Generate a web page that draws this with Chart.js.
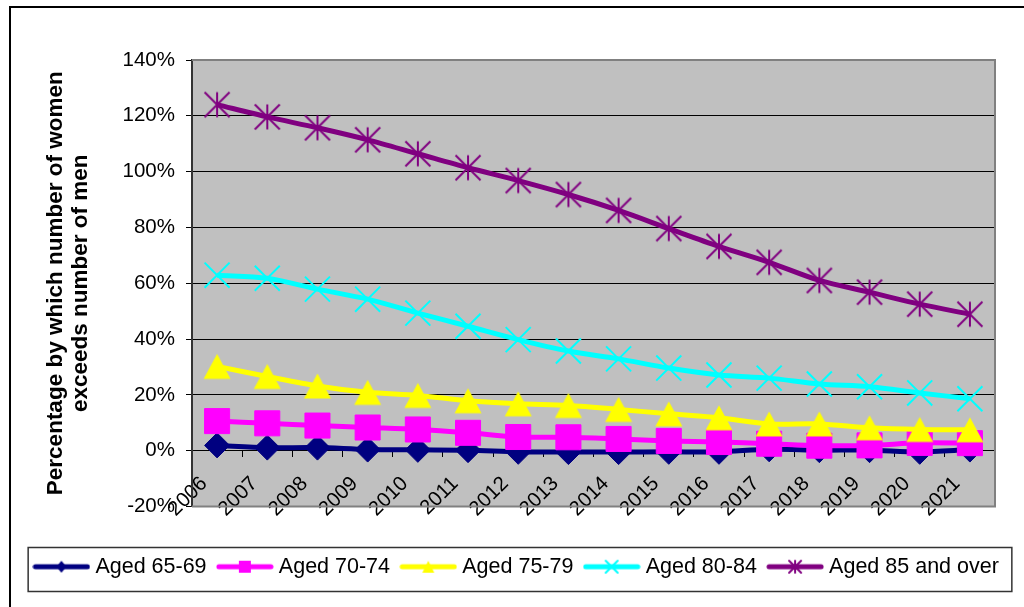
<!DOCTYPE html>
<html>
<head>
<meta charset="utf-8">
<title>Women exceeding men by age group</title>
<script src="https://cdn.jsdelivr.net/npm/chart.js@4.4.1/dist/chart.umd.min.js"></script>
<style>
    html, body { margin: 0; padding: 0; background: #fff; overflow: hidden; }
    #frame {
        position: absolute; left: 9px; top: 6px;
        width: 1100px; height: 700px;
        border: 2px solid #000;
    }
    #wrap { position: absolute; left: 0; top: 0; width: 1024px; height: 607px; }
</style>
</head>
<body>
<div id="frame"></div>
<div id="wrap"><canvas id="excessChart" width="1024" height="607"></canvas></div>
<script>
// Years on the category axis
const years = [
    "2006", "2007", "2008", "2009", "2010", "2011", "2012", "2013",
    "2014", "2015", "2016", "2017", "2018", "2019", "2020", "2021"
];

// % by which women outnumber men, per age band
const aged6569 = [1.9, 1.1, 1.1, 0.4, 0.3, 0.2, -0.4, -0.5, -0.5, -0.4, -0.4, 0.5, 0.2, 0.2, -0.4, 0.4];
const aged7074 = [10.6, 9.8, 9.0, 8.3, 7.6, 6.4, 4.9, 4.8, 4.2, 3.5, 3.1, 2.5, 1.8, 1.9, 2.8, 2.7];
const aged7579 = [30.2, 26.6, 23.2, 20.9, 19.8, 17.9, 16.8, 16.2, 14.8, 13.2, 11.8, 9.6, 9.6, 8.2, 7.6, 7.5];
const aged8084 = [62.9, 61.8, 57.9, 54.3, 49.3, 44.6, 39.8, 35.7, 32.9, 29.6, 27.1, 26.0, 23.9, 22.9, 20.7, 18.6];
const aged85 = [124.0, 119.6, 115.7, 111.4, 106.4, 101.4, 96.8, 91.8, 86.1, 79.6, 73.2, 67.5, 61.0, 56.8, 52.5, 48.9];

const seriesNames = ["Aged 65-69", "Aged 70-74", "Aged 75-79", "Aged 80-84", "Aged 85 and over"];

// Value axis
const yMin = -20;
const yMax = 140;
const yStep = 20;

const FONT = "'Liberation Sans', Arial, sans-serif";

const NAVY = "#000080";
const MAGENTA = "#FF00FF";
const YELLOW = "#FFFF00";
const CYAN = "#00FFFF";
const PURPLE = "#800080";

Chart.defaults.font.family = FONT;
Chart.defaults.color = "#000";

function makeCanvas(w, h) {
    const c = document.createElement("canvas");
    c.width = w;
    c.height = h;
    return c;
}

// Asterisk: vertical bar plus an X, no horizontal bar
function drawStar(ctx, cx, cy, half, color, lw) {
    ctx.strokeStyle = color;
    ctx.lineWidth = lw;
    ctx.beginPath();
    ctx.moveTo(cx, cy - half);
    ctx.lineTo(cx, cy + half);
    ctx.moveTo(cx - half, cy - half);
    ctx.lineTo(cx + half, cy + half);
    ctx.moveTo(cx + half, cy - half);
    ctx.lineTo(cx - half, cy + half);
    ctx.stroke();
}

// Triangle whose bounding box is centred on the point
function drawTriangle(ctx, cx, cy, halfW, halfH, color) {
    ctx.fillStyle = color;
    ctx.beginPath();
    ctx.moveTo(cx, cy - halfH);
    ctx.lineTo(cx + halfW, cy + halfH);
    ctx.lineTo(cx - halfW, cy + halfH);
    ctx.closePath();
    ctx.fill();
}

function drawDiamond(ctx, cx, cy, halfW, halfH, color) {
    ctx.fillStyle = color;
    ctx.beginPath();
    ctx.moveTo(cx, cy - halfH);
    ctx.lineTo(cx + halfW, cy);
    ctx.lineTo(cx, cy + halfH);
    ctx.lineTo(cx - halfW, cy);
    ctx.closePath();
    ctx.fill();
}

function drawCross(ctx, cx, cy, half, color, lw) {
    ctx.strokeStyle = color;
    ctx.lineWidth = lw;
    ctx.beginPath();
    ctx.moveTo(cx - half, cy - half);
    ctx.lineTo(cx + half, cy + half);
    ctx.moveTo(cx + half, cy - half);
    ctx.lineTo(cx - half, cy + half);
    ctx.stroke();
}

const starPoint = makeCanvas(28, 28);
drawStar(starPoint.getContext("2d"), 14, 14, 12.5, PURPLE, 2);

const trianglePoint = makeCanvas(30, 28);
drawTriangle(trianglePoint.getContext("2d"), 15, 14, 13.5, 12.5, YELLOW);

// Legend samples: thick line with a small marker in the middle
function legendSample(color, marker) {
    const c = makeCanvas(58, 24);
    const ctx = c.getContext("2d");
    ctx.strokeStyle = color;
    ctx.lineWidth = 5;
    ctx.lineCap = "round";
    ctx.beginPath();
    ctx.moveTo(3, 12);
    ctx.lineTo(55, 12);
    ctx.stroke();
    marker(ctx, 29, 12);
    return c;
}

const legendIcons = [
    legendSample(NAVY, (ctx, x, y) => drawDiamond(ctx, x, y, 5, 6, NAVY)),
    legendSample(MAGENTA, (ctx, x, y) => { ctx.fillStyle = MAGENTA; ctx.fillRect(x - 6, y - 6, 12, 12); }),
    legendSample(YELLOW, (ctx, x, y) => drawTriangle(ctx, x, y, 6, 6, YELLOW)),
    legendSample(CYAN, (ctx, x, y) => drawCross(ctx, x, y, 6, CYAN, 2)),
    legendSample(PURPLE, (ctx, x, y) => drawStar(ctx, x, y, 6, PURPLE, 2))
];

// Grey plot background and its border
const plotArea = {
    id: "plotArea",
    beforeDraw(chart) {
        const a = chart.chartArea;
        const ctx = chart.ctx;
        ctx.save();
        ctx.fillStyle = "#C0C0C0";
        ctx.fillRect(a.left, a.top, a.right - a.left, a.bottom - a.top);
        ctx.restore();
    },
    beforeDatasetsDraw(chart) {
        const a = chart.chartArea;
        const ctx = chart.ctx;
        ctx.save();
        ctx.strokeStyle = "#808080";
        ctx.lineWidth = 2;
        ctx.beginPath();
        ctx.moveTo(a.left, a.top);
        ctx.lineTo(a.right, a.top);
        ctx.lineTo(a.right, a.bottom);
        ctx.lineTo(a.left, a.bottom);
        ctx.stroke();
        ctx.restore();
    }
};

// Box round the legend row
const legendFrame = {
    id: "legendFrame",
    afterDraw(chart) {
        const boxes = chart.legend.legendHitBoxes;
        if (!boxes || !boxes.length) {
            return;
        }
        const first = boxes[0];
        const last = boxes[boxes.length - 1];
        const left = first.left - 10;
        const right = last.left + last.width + 13;
        const ctx = chart.ctx;
        ctx.save();
        ctx.strokeStyle = "#333";
        ctx.lineWidth = 1.5;
        ctx.strokeRect(left, first.top - 8.5, right - left, 44);
        ctx.restore();
    }
};

function lineSeries(label, data, color, order, point) {
    return Object.assign({
        label: label,
        data: data,
        borderColor: color,
        backgroundColor: color,
        borderWidth: 5,
        tension: 0.3,
        order: order,
        pointBackgroundColor: color,
        pointBorderColor: color,
        pointBorderWidth: 1
    }, point);
}

const ctx = document.getElementById("excessChart").getContext("2d");

new Chart(ctx, {
    type: "line",
    data: {
        labels: years,
        datasets: [
            lineSeries(seriesNames[0], aged6569, NAVY, 4, { pointStyle: "rectRot", pointRadius: 12.5 }),
            lineSeries(seriesNames[1], aged7074, MAGENTA, 3, { pointStyle: "rect", pointRadius: 17.7 }),
            lineSeries(seriesNames[2], aged7579, YELLOW, 2, { pointStyle: trianglePoint, pointRadius: 14 }),
            lineSeries(seriesNames[3], aged8084, CYAN, 1, { pointStyle: "crossRot", pointRadius: 17.7, pointBorderWidth: 2 }),
            lineSeries(seriesNames[4], aged85, PURPLE, 0, { pointStyle: starPoint, pointRadius: 14 })
        ]
    },
    options: {
        responsive: false,
        animation: false,
        events: [],
        layout: {
            padding: { top: 60, left: 13, right: 0, bottom: 19.5 }
        },
        scales: {
            x: {
                type: "category",
                position: { y: 0 },
                offset: true,
                grid: {
                    offset: true,
                    drawOnChartArea: false,
                    drawTicks: true,
                    tickLength: 6,
                    color: "#000"
                },
                border: { display: true, color: "#000", width: 1 },
                ticks: {
                    autoSkip: false,
                    minRotation: 45,
                    maxRotation: 45,
                    labelOffset: -13,
                    padding: 15,
                    color: "#000",
                    font: { size: 20.5 }
                }
            },
            y: {
                position: "left",
                min: yMin,
                max: yMax,
                ticks: {
                    stepSize: yStep,
                    padding: 11,
                    color: "#000",
                    font: { size: 20.5 },
                    callback: (v) => v + "%"
                },
                grid: {
                    color: "#000",
                    lineWidth: 1,
                    drawTicks: true,
                    tickLength: 6
                },
                border: { display: true, color: "#333", width: 2 },
                title: {
                    display: true,
                    text: ["Percentage by which number of women", "exceeds number of men"],
                    color: "#000",
                    font: { size: 22.5, weight: "bold", lineHeight: 1.13 },
                    padding: { top: 30, bottom: 0 }
                },
                afterFit(scale) {
                    scale.width = 179;
                }
            },
            // keeps a strip free to the right of the plot
            rightGap: {
                type: "linear",
                position: "right",
                display: true,
                grid: { display: false },
                border: { display: false },
                ticks: { display: false },
                afterFit(scale) {
                    scale.width = 29;
                }
            }
        },
        plugins: {
            tooltip: { enabled: false },
            legend: {
                position: "bottom",
                title: {
                    display: true,
                    text: " ",
                    font: { size: 10 },
                    padding: { top: 22.5, bottom: 0 }
                },
                labels: {
                    usePointStyle: true,
                    pointStyleWidth: 46.5,
                    padding: 15,
                    color: "#000",
                    font: { size: 21.5 },
                    generateLabels: (chart) => chart.data.datasets.map((ds, i) => ({
                        text: ds.label,
                        pointStyle: legendIcons[i],
                        fillStyle: ds.borderColor,
                        strokeStyle: ds.borderColor,
                        lineWidth: 0,
                        hidden: false,
                        datasetIndex: i
                    }))
                }
            }
        }
    },
    plugins: [plotArea, legendFrame]
});
</script>
</body>
</html>
